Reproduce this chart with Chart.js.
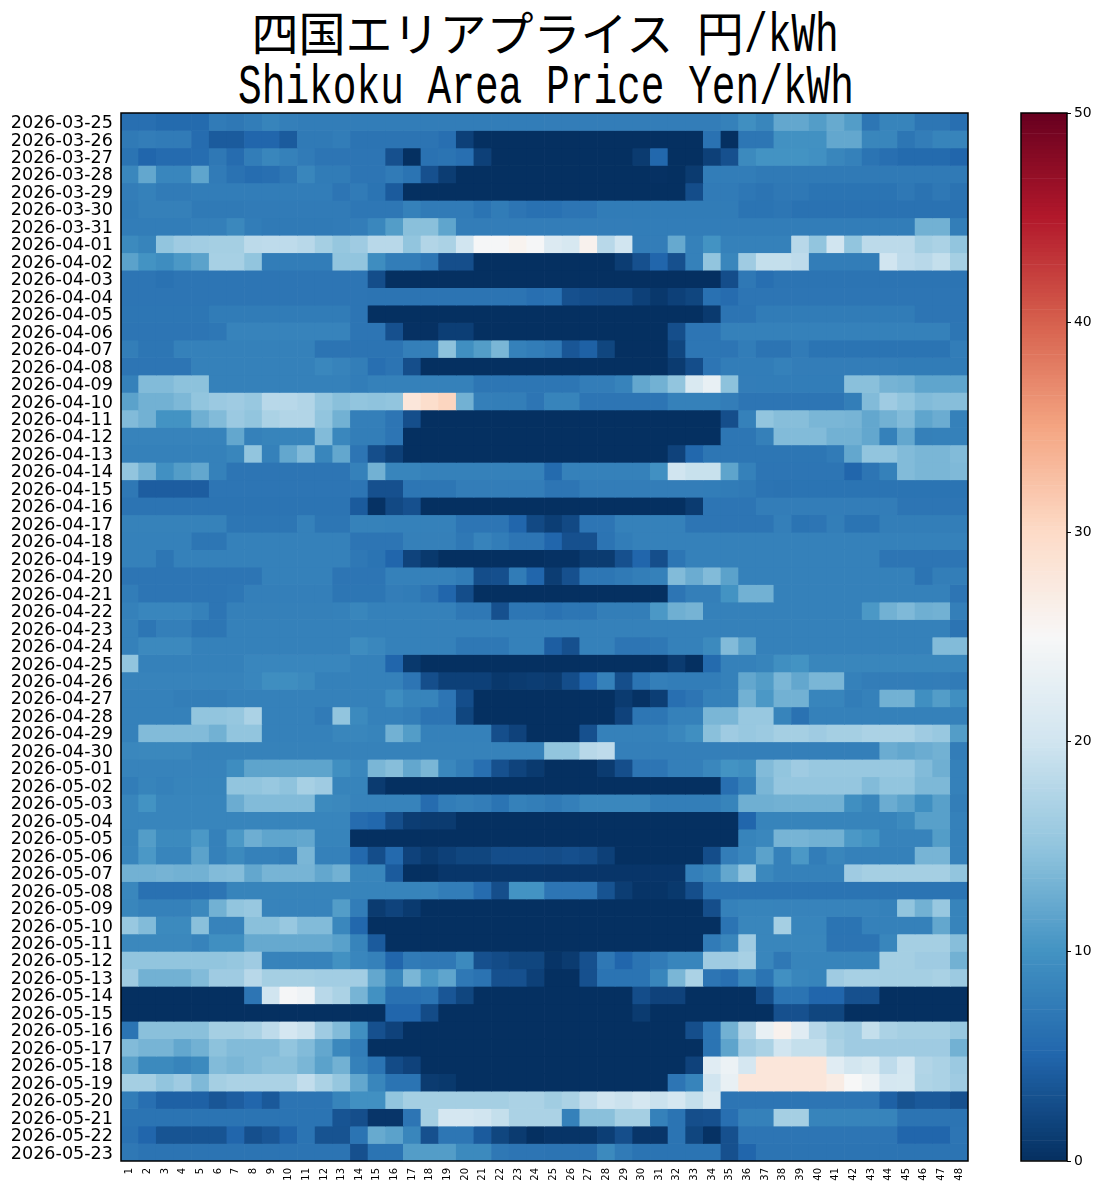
<!DOCTYPE html>
<html lang="ja">
<head>
<meta charset="utf-8">
<title>四国エリアプライス</title>
<script src="https://cdn.jsdelivr.net/npm/chart.js@4/dist/chart.umd.min.js"></script>
<style>
  html, body { margin: 0; padding: 0; background: #fff; }
  #page { position: relative; width: 1110px; height: 1190px; overflow: hidden; }
  canvas { position: absolute; top: 0; }
  #heat { left: 0; }
  #bar { left: 1000px; }
  .title-line { position: absolute; left: 0; width: 1090px; text-align: center; white-space: nowrap; color: #000;
    font-family: "Noto Sans CJK JP", sans-serif; font-size: 47px; line-height: 50px; }
  .latin { display: inline-block; font-family: "Liberation Mono", monospace; font-size: 56px;
    transform: scaleX(.705); transform-origin: left center; text-align: left; white-space: pre; }
</style>
</head>
<body>
<div id="page">
  <div class="title-line" style="top:6px">四国エリアプライス<span class="latin" style="width:23.6px"> </span>円<span class="latin" style="width:94.6px">/kWh</span></div>
  <div class="title-line" style="top:58px"><span class="latin" style="width:614px">Shikoku Area Price Yen/kWh</span></div>
  <canvas id="heat" width="1000" height="1190"></canvas>
  <canvas id="bar" width="110" height="1190"></canvas>
</div>
<script>
const dates = [
  '2026-03-25','2026-03-26','2026-03-27','2026-03-28','2026-03-29','2026-03-30','2026-03-31',
  '2026-04-01','2026-04-02','2026-04-03','2026-04-04','2026-04-05','2026-04-06','2026-04-07','2026-04-08','2026-04-09','2026-04-10',
  '2026-04-11','2026-04-12','2026-04-13','2026-04-14','2026-04-15','2026-04-16','2026-04-17','2026-04-18','2026-04-19','2026-04-20',
  '2026-04-21','2026-04-22','2026-04-23','2026-04-24','2026-04-25','2026-04-26','2026-04-27','2026-04-28','2026-04-29','2026-04-30',
  '2026-05-01','2026-05-02','2026-05-03','2026-05-04','2026-05-05','2026-05-06','2026-05-07','2026-05-08','2026-05-09','2026-05-10',
  '2026-05-11','2026-05-12','2026-05-13','2026-05-14','2026-05-15','2026-05-16','2026-05-17','2026-05-18','2026-05-19','2026-05-20',
  '2026-05-21','2026-05-22','2026-05-23',
];
const slots = ['1','2','3','4','5','6','7','8','9','10','11','12','13','14','15','16','17','18','19','20','21','22','23','24',
  '25','26','27','28','29','30','31','32','33','34','35','36','37','38','39','40','41','42','43','44','45','46','47','48'];
const colorbarTicks = [0, 10, 20, 30, 40, 50];
// RdBu_r anchors, 0 -> 50 yen
const rdbu = ['#053061','#2166ac','#4393c3','#92c5de','#d1e5f0','#f7f7f7','#fddbc7','#f4a582','#d6604d','#b2182b','#67001f'];

// one row per day, 48 half hour slots
const prices = [
  [6,6,5.5,5.5,5.5,7.3,7,7.5,8.3,7.8,7.5,7.5,7.5,7.5,7.5,7.5,7.5,7.5,7.5,7.5,7.5,7.5,7.5,7.5, 7.6,7.6,7.6,7.6,7.6,7.6,7.6,7.6,7.6,7.6,8,9.5,8.5,12,12,11,12.3,11,6.8,8.3,8.3,6.8,6.8,6],
  [7.2,7.6,7.3,7.3,5.7,4,4,5,5,4,7.2,7.2,7.5,6.6,6.6,6.6,6.6,6.6,6,1.5,0,0,0,0, 0,0,0,0,0,0,0,0,0,6.3,0,6.8,6.8,9.8,9.8,9.8,12,12,8.5,8.5,6.8,7.6,8.3,8.3],
  [6.5,5,5.6,5.6,5.8,7,5.7,7.5,8.5,8,7.3,6.7,6.7,6.7,6.7,3,0,6.3,6.5,6,1.5,0,0,0, 0,0,0,0,0,1,5.2,0,0,1.5,3,9,10,10,10,9.7,8.5,8,6.5,6,5.5,5.5,5.5,5],
  [8.7,12,8.6,8.6,11.8,7.3,6.3,5.8,6,6.8,8.5,7.4,7.4,6.7,6.7,7.3,6.5,3,1.2,0,0,0,0,0, 0,0,0,0,0,0,.1,0,1,7.5,7.5,7.5,7.2,7.2,7.2,7.2,7.2,7.2,7.2,7.2,7.2,7.2,7.2,7.2],
  [7.6,8,7.3,7.3,7.5,7.5,7.5,7.5,7.5,7.5,7.5,7.5,6.7,7.3,6.5,4,0,0,0,0,0,0,0,0, 0,0,0,0,0,0,0,0,2.7,7.3,7.3,6.9,6.6,7,7,6.5,6.5,6.5,6.5,6.5,7,6.4,7,6.4],
  [7.4,7.9,7.9,7.9,7.2,7.2,7.2,7.3,7.3,7.3,7.3,7.3,7.3,6.9,6.9,6.9,8,7.3,7.3,7.3,6.5,7.4,6.7,6.2, 6.2,6.7,6.7,7.4,7.4,7.4,7.4,7.4,7.4,7.4,7.4,6.5,6.5,6.8,6.3,6.3,6.3,6.3,6.3,6.3,6.3,6.3,6.3,6.3],
  [7.5,7.5,7.5,7.5,7.8,7.8,8.8,7.5,7.2,7.2,7.2,7.2,7.3,7.6,8.7,11,14.5,14.5,11.8,7.6,7.6,7.6,7.6,7.6, 7.6,7.6,7.6,7.6,7.6,7.5,7.5,7.5,7.5,7.5,7.5,7.5,7.5,7.5,7.5,7.5,7.5,7.5,7.5,7.5,7.5,13,13,7.7],
  [9,8.3,15,16,16.3,16.5,16.5,18.3,18.5,18.5,18,16.5,15.3,16,18,18,15,17.5,17,20,24.7,24.7,25.8,24.8, 21.5,20.8,26,18,20,7.6,7.6,12.2,8,10,8,8,8,8,18,15,20,15,18.3,18.3,18.3,16.5,17,15],
  [11.5,10,9.3,10.5,11.5,16.7,16.7,15,7.5,7.5,7.5,7.5,15,15,9.3,7.5,7.5,6.8,2.8,2.8,0,0,0,0, 0,0,0,0,1.2,3,5,3,8,15,8.5,16,19,19,18.5,7.5,7.5,7.5,7.5,20,18.5,18,19,16.5],
  [6.7,6.7,6.3,6.7,6.7,6.7,6.7,6.7,6.7,6.7,6.7,6.7,6.7,6.7,2.7,0,0,0,0,0,0,0,0,0, 0,0,0,0,0,0,0,0,0,0,2.7,7,6,6.6,6.6,6.6,6.6,6.6,6.6,6.6,6.6,6.6,6.6,6.6],
  [6.7,6.7,6.7,6.7,6.7,6.7,6.7,6.7,6.7,6.7,6.7,6.7,6.7,6.7,6.6,6.6,6.6,6.6,6.6,6.6,6.6,6.6,6.6,6, 6.2,3,2.7,2.6,2.6,1.5,.7,1.5,2,6.2,5.7,6.7,6.7,6.7,6.7,6.7,6.7,6.7,6.7,6.7,6.7,6.7,6.7,6.7],
  [6.8,6.8,6.8,6.8,6.8,7.4,7.4,7.4,7.4,7.4,7.4,7.4,7.4,6.7,0,0,0,0,0,0,0,0,0,0, 0,0,0,0,0,0,0,0,0,.9,6.6,6.6,7.4,7.4,7.4,7.4,7.4,7.4,7.4,7.4,7.4,6.7,6.7,6.7],
  [6.7,6.7,6.7,6.7,6.7,6.9,8.2,8.2,8.2,8.2,8.2,8.2,8.2,6.7,6.7,3,.1,.1,1.3,1.3,0,0,0,0, 0,0,0,0,0,0,0,2.8,6.7,6.7,8,8,8,8,8,8,8,8,8,8,8,8,8,6.8],
  [7.7,6.8,6.8,8,8,8,8,8,8,8,8,6.6,6.6,6.6,6.6,6.6,7.8,7.8,14.7,9.5,11,13.5,8,7.5, 7,3.5,4.5,2,0,0,0,2,6.8,6.8,6.7,7.5,6.6,6.6,7.3,6.5,6.5,6.5,6.5,6.5,6.5,6.5,6.5,7.5],
  [6.7,6.7,6.7,6.7,8,8,8,8,8,8,8,8.7,8.2,7.7,6,6.6,2.8,0,0,0,0,0,0,0, 0,0,0,0,0,0,0,1,2.7,6.7,7.5,7.5,7.5,8,7.6,7.6,7.6,7.6,7.6,7.6,7.4,7.4,7.4,7.4],
  [8,14,14,14.7,14.7,8,8,8,8,8,8,8,8,7.5,8,8,8,8,8,8,6.8,6.8,6.8,6.8, 6.8,6.8,7.6,7.6,8.2,12,13,15,21,23,14.7,7.6,7.5,7.5,7.5,7.5,7.5,14.5,14.5,13.2,13,11.8,11.8,11.8],
  [11.5,13,13,13.7,15,15.7,16,15.5,18,18,17.5,15.5,14.5,15,14.8,15,28,29.5,30.5,13,7.8,7.7,7.7,6.7, 8.3,8.3,6.7,6.7,6.7,6.7,6.7,8,8,8,7.6,6.7,6.7,6.7,6.7,6.7,6.7,7.7,14,16,15,14,14.3,14.3],
  [14,13,10,10,12.8,14,15.7,15,17,17.5,17.5,15,13,7.8,7.8,6.7,2.8,0,0,0,0,0,0,0, 0,0,0,0,0,0,0,0,0,0,2.8,8,15,14.3,14.3,13.5,13.5,13.3,12,13,14,11.8,12.5,8],
  [8.2,8.2,8.2,8.2,8.2,8.2,12,8,8.3,8.3,8.3,14,8.7,7.7,7.7,6.7,0,0,0,0,0,0,0,0, 0,0,0,0,0,0,0,0,0,0,6.8,6.8,7.9,14,14,14,13,13,12,8,12,7.9,8,8],
  [8,8,8,8,8,8,8.5,15,8,12,14,8.5,12,6.7,2.8,1.5,0,0,0,0,0,0,0,0, 0,0,0,0,0,0,0,1.7,5.2,6.8,6.8,6.8,6.8,6.8,6.8,6.8,7.3,12,15,15,14,13.5,13.5,14],
  [15,13,9.7,11,12,8,6.7,6.7,6.7,6.7,6.7,6.7,6.7,8,13,8.4,8.4,8,8,8,8,8,8,8, 5.5,8,8,8,8,8,9.7,20,19.3,19.3,11.7,8,6.7,6.7,6.7,6.7,6.7,5,6.7,8,14,13.5,13.5,13.8],
  [7,4.2,4.2,4.2,4.2,6.7,6.7,6.7,6.7,6.7,6.7,6.7,6.7,6.7,3,3,6.8,6.8,6.8,7.6,7.6,7.6,7.6,7.6, 6.7,6.7,7.6,7.6,7.6,7.6,7.6,7.6,7.6,7.5,7.4,7.2,6.6,6.4,6.5,6.5,6.5,6.5,6.5,6.5,6.5,6.5,6.5,6.5],
  [6.6,6.6,6.6,6.6,6.6,6.6,6.6,6.6,6.6,6.6,6.6,6.6,6.6,4,.2,2.3,3,0,0,0,0,0,0,0, 0,0,0,0,0,0,0,0,1,6.7,6.7,6.7,7.6,7.6,7.6,7.6,7.6,7.6,7.6,7.6,6.7,6.7,6.7,6.7],
  [8.1,8.1,8.1,8.1,8.1,8.1,6.8,6.8,6.8,6.8,8,6.8,6.8,8.1,8.1,8,8,8,8,6.7,6.7,6.7,5,2.3, 1.3,2.3,6.7,6.7,8,8,8,8,6.7,6.7,6.7,6.7,6.7,7.8,6.5,6.7,7.7,6.5,6.5,7.7,7.7,7.7,7.7,7.7],
  [8,8,8,8,6.8,6.8,8,8,8,8,8,8,8,6.7,6.7,6.7,7.9,7.9,7.9,7,8.2,7.5,6.7,6.7, 5,3,3,6.6,7.5,8,8,8,8,8,8,8,8,8,8,8,8,8,8,8,8,8,8,8],
  [8,8,6.8,8,8,8,8,8,8,8,8,8,8,7,6.5,5,1.8,.8,0,0,0,0,0,0, .2,.2,1,1,3,5,2.8,6.8,8,8,8,8,8,8,8,8,8,8,8,6.7,6.7,6.7,6.7,6.7],
  [6.7,6.7,6.7,6.7,6.7,6.7,6.7,6.7,8,8,8,8,6.7,6.7,6.7,8,8,8,8,7.4,2.7,2.9,7.4,5, 1.2,3,6.8,6.8,7.2,7.7,8,14,12.5,14,11.5,8,8,8,8,8,8,8,8,8,8,6.6,7.7,7.7],
  [7.5,6.7,6.7,6.7,6.7,6.7,6.9,7.8,7.8,7.8,7.8,7.8,6.8,6.8,6.8,7.6,7.4,6.7,5,2.7,0,0,0,0, 0,0,0,0,0,0,0,6.7,7.8,7.8,10,13,13,8,8,8,8,8,8,8,8,8,8,6.7],
  [8,8.6,8.6,8.6,8,6.7,7.9,7.9,7.9,7.9,7.9,7.9,8,8.5,8,8,8,8,8,7,7,3,6.8,6.8, 6.3,6.8,6.8,7.7,7.7,7.7,10.5,12.8,13.2,8,8,8,8,8,8,8,8,8,10.5,13,13.8,12.8,13,7.8],
  [8,6.8,7.8,7.8,6.8,6.8,8,8,8,8,8,8,8,8,8,8,8,8,8,8,8,8,8,8, 8,8,8,8,8,8,8,8,8,8,8,8,8,8,8,8,8,8,8,8,8,8,8,6.6],
  [8,8.9,8.9,8.9,8,8,8,8,8,8,8,8,8,9.2,8.7,8,8,8,8,7,7,7,8,8, 4.3,3,8,8,6.7,6.7,7,8,8,9,14,11.5,8,8,8,8,8,8,8,8,8,8,14,14],
  [15,8,8,8,8,8,8,8.6,8.6,8.6,8.6,8.6,8.6,8,8,5,.8,0,0,0,0,0,0,0, 0,0,0,0,0,0,0,1,0,5.5,8,8,8.3,9.5,10,8.5,8.5,8.5,8.5,8.5,8.5,8.5,8.5,8.5],
  [8.2,8.2,8.2,8.2,8.2,8.2,8.2,8.6,9.4,9.4,9,8,8,8,8,8,6.7,2.8,1.5,1.5,1.5,.7,1,1.2, 1,2.7,5,8,2.8,6.5,7.8,7.5,7.5,7.5,8,12,11,13.5,12,13.5,13.5,8,7.6,7.6,7.6,7.5,7.6,7.3],
  [8,8,8,7.7,7.7,7.7,8,8,8,8,8,8,8,8,8,9.3,8.3,8.3,6.7,2.7,0,0,0,0, 0,0,0,0,1,.2,1.3,6,6.7,8,8,13,10.5,13,13,8.4,8.4,7.5,8,13,13,9.5,11,9.5],
  [8,8,8,8,15,15,15.3,17,8,8,8,7.3,15,9,8,8,7.7,6.6,6.6,2,0,0,0,0, 0,0,0,0,1.7,6.8,6.8,8,8,13.5,13.5,15.5,15.5,8.3,6.3,8,8,8,8,8,8,8,8,8],
  [8,14,14,14,14,13,15,15,8,8,8,8,8.5,8.5,8.3,13,11,8,8,8,8,2.8,1.7,0, 0,0,3,8,8,8,8,8.7,9.5,14.5,16,15.5,15.8,16.5,16.5,16,16.5,16.5,17,17,17,16,15.5,11],
  [8.7,8.8,8.8,8.8,8.1,8.1,8.1,8.1,8.1,8.1,8.1,8.1,8.1,8.1,8.1,8.1,8.1,8.1,8.1,8.1,8.1,8.1,8.1,8.1, 15,15,18,18.5,7.8,7.8,7.8,7.8,7.8,7.8,7.8,7.8,7.8,7.8,7.8,7.8,7.8,7.8,7.8,12.5,12,12.5,13,7.6],
  [8.2,8.2,8.2,8.2,8.2,8.2,9.3,11.7,11.7,11.7,11.7,11.7,9.5,8.7,13.5,14.3,12,13.5,8.7,7.7,6,3,1.8,.9, 0,0,0,1,2.8,6.7,6.7,7.8,7.8,8.7,10,9.5,14,15,16,15.5,15.5,15.5,15.5,15.5,15.5,14,12.8,8],
  [7.5,8.3,8,8.3,8.3,8.3,15,15,15.5,14.8,16.7,16,8.3,8.3,1,0,0,0,0,0,0,0,0,0, 0,0,0,0,0,0,0,0,0,0,6,8,13.5,15.2,15.2,15.2,15.2,15.2,14,15,15,13.7,13.7,8],
  [8.4,10,8.4,8.4,8.4,8.4,12.5,14,14,14,14,9,8.8,8.2,8.2,8.2,8.2,5.7,7.5,7.9,7.6,6.5,8,7.7, 7.2,7.8,8.7,8.7,8.7,8.7,7.7,7.7,7.7,7.7,8.3,12.8,12.8,13,13,13,13,9.5,8.5,12.5,11.5,9.6,11.3,7.7],
  [8.4,8.4,8.4,8.4,8.4,8.4,8.4,8.4,8.4,8.4,8.4,8.4,8.4,5.7,5.2,2.8,1.2,1,1,0,0,0,0,0, 0,0,0,0,0,0,0,0,0,0,0,5,8.3,8.3,8.3,8.3,8.3,8.3,8.3,8.3,9,11.3,11.3,8],
  [8.3,11,9,9,10.5,8,10.5,12.7,11.8,11.8,12,8.3,8.3,0,0,0,0,0,0,0,0,0,0,0, 0,0,0,0,0,0,0,0,0,0,0,8.3,8.7,13.3,13.3,13,13,10.5,10,8.2,8.2,8.2,11,8],
  [8.4,10.5,8.4,8.4,11.5,8,9,8,8,7.7,13.5,8,8,5.3,2.7,5.4,1.7,.9,1.5,2,2,2.7,2.7,2.7, 2.6,2.9,2.6,1.5,0,0,0,0,0,2.7,7.6,8.6,11.5,8,10.5,7.5,8.5,8,8,8,8,13.3,13.3,8],
  [13,13,13.2,13,13,14,14.2,12,13.3,13.3,13.3,12,13,8.5,8.5,4,0,0,.6,.6,.6,.6,.6,.6, .5,.5,.5,.5,.5,.5,.5,.5,7.8,8.5,12,15,8.8,8,8,8,8,16,16.5,16.5,16.5,16.5,16.5,15],
  [8.7,6.2,6.2,6.2,6.2,6.7,8.3,8.3,8.3,8.3,8.3,8.3,8.3,8.3,8.3,8.3,8.3,8.3,7.5,7.5,5.7,2.8,10,10, 6.7,6.7,6.7,3.2,1.2,.4,.4,.8,2.8,6.5,6.5,6.5,6.5,6.5,6.5,6.5,6.5,6.5,6.5,6.5,6.5,6.5,6.5,6.5],
  [8.5,8,8,8,8.8,13,15,15.5,8.2,8.2,8.2,8.2,11,7.5,1,1.8,.9,0,0,0,0,0,0,0, 0,0,0,0,0,0,0,0,0,2.8,8,8.3,8.3,8.2,8.2,8.2,8.2,8.2,8.2,8,15,13,15.5,8.3],
  [15.5,14,9,9,14.5,8.2,8.2,14.5,14.5,15.5,14,14,8.7,5.2,0,0,0,0,0,0,0,0,0,0, 0,0,0,0,0,0,0,0,0,0,6.5,8.5,8.5,16.5,8.4,8.4,6.5,6.5,8,8,8,8,12,8.3],
  [8.8,8.8,8.8,8.8,8.2,9.6,9.6,12.2,12.2,12.2,12.2,12.2,11.4,8.3,4,0,0,0,0,0,0,0,0,0, 0,0,0,0,0,0,0,0,0,7.3,8.5,16,8.5,8.5,8.5,8.5,6.6,6.6,6.6,8.5,16.5,16.5,16.5,14.3],
  [15,15,15,15,15,15,15.3,16,8.2,8.2,8.2,8.2,9.8,8.6,8,5,7.3,7,7,9,3,2.5,2,2, .4,1,3,7,5,6.5,7.3,8.4,8.4,16,16,16.7,8.5,7,8.3,8.3,8.3,8.3,8.3,16.5,16.5,16,16,13],
  [16,13,13,13,14,16,16,18,16.5,16.5,16.5,16.3,16.3,16.3,12,8.5,13.5,10.5,11.8,7,6.4,3,3,1.5, 0,0,3,6.5,6.5,6.5,8.5,13.5,17,6.7,6,8.5,6.5,9.7,8.5,8.3,16,16.7,16.7,16.5,16.5,16.5,16.8,15.8],
  [0,0,0,0,0,0,0,6.7,20,24.7,24,18,17,13.3,9.8,6.2,6.2,6.5,3.5,2,0,0,0,0, 0,0,0,0,0,2.7,1.7,1.7,0,0,0,0,2.7,6.5,6.5,5,5,3,3,0,0,0,0,0],
  [0,0,0,0,0,0,0,0,0,0,0,0,0,0,0,5,5,2.5,0,0,0,0,0,0, 0,0,0,0,0,1,0,0,0,0,0,0,0,3,3,2,2,0,0,0,0,0,0,0],
  [6.5,14.5,14.5,14.5,14.5,16.5,16.5,17,18.5,20.5,19.5,16,14,9.5,3,1.7,0,0,0,0,0,0,0,0, 0,0,0,0,0,0,0,0,2.8,6.5,13,17.5,23,26,22,18,16.5,16,19,17,16.5,16.5,16.5,15.5],
  [14,13.3,13.3,12,13,14.7,14,14,14,15,14,12,8.8,7.5,0,0,0,0,0,0,0,0,0,0, 0,0,0,0,0,0,0,0,0,6.5,11.7,16,17,20,19,19,17,16,16,16,16,16,16,13],
  [11.5,9,9,8.3,9,14,13.5,14,14.5,14.5,13.5,11.5,13,8,6.5,2.5,1.7,0,0,0,0,0,0,0, 0,0,0,0,0,0,0,0,1.7,22,23.5,20.5,28,28,28,28,22,20.3,21,18.5,20.5,17.5,17,15.7],
  [16.5,16.5,15,16,13.8,16.5,17,17,17,17,18.8,17,15.3,12,8.5,6.5,6.5,1,.8,0,0,0,0,0, 0,0,0,0,0,0,0,6.7,8.3,20,23,28,28,28,28,28,27,25,23.5,20.5,20.7,17.3,17,16],
  [7.5,6,4.5,4.5,4.5,3.5,4.2,5,3.8,6.6,6.6,6.6,8.3,9.7,9.7,15,16.5,16.5,16.5,16.5,16.5,16.5,17,17, 16.2,17,18.8,20,19.5,20.5,19.5,20.5,19,21,6.7,6.7,6.7,6.7,6.7,6.7,6.7,6.7,6.7,4.5,3.2,3.8,3.8,3],
  [6.5,6.5,6.5,6.5,6.5,6.5,6.5,6.5,6.5,6.5,6.5,6.5,3.3,2.8,.5,.5,6.7,16.5,20.5,20.5,20,19,17,17, 17,8,14.5,14.5,16.5,16.5,8,6.5,2.8,3,6,8,8,16.5,16.5,8.3,8.3,8.3,8.3,8.3,6.6,6.6,6.6,6.6],
  [6.3,5,3.3,3.3,3.3,3.3,5,2.9,3.5,4.8,6.5,3.2,3.2,6.5,12.3,11.5,8.5,3,6.8,6.8,4,2,1,0, .4,.4,.4,1.3,2.8,.5,.5,6.5,2,.2,3,6.7,6.7,6.7,6.7,6.7,6.7,6.7,6.7,6.7,5,5,5,6.7],
  [7,6.6,6.6,6.6,6.6,6.6,6.6,6.6,6.6,6.6,6.6,6.6,6.6,3,6.5,6.5,11,11,11,9,9,7,6.7,6.7, 6.6,6.6,6.6,9,7.3,6.5,6.5,6.5,6.5,6.5,3,5,6.6,6.6,6.6,6.6,6.6,6.6,6.6,6.6,6.6,6.6,6.6,6.6],
];

const hexToRgb = h => [1, 3, 5].map(i => parseInt(h.slice(i, i + 2), 16));
function priceColor(v) {
  const t = Math.max(0, Math.min(1, v / 50)) * (rdbu.length - 1);
  const i = Math.min(Math.floor(t), rdbu.length - 2);
  const a = hexToRgb(rdbu[i]), b = hexToRgb(rdbu[i + 1]);
  const c = a.map((x, k) => Math.round(x + (b[k] - x) * (t - i)));
  return `rgb(${c[0]},${c[1]},${c[2]})`;
}

// black box round the plot area, the axis border only gives one side
const frame = {
  id: 'frame',
  afterDraw(chart) {
    const { ctx, chartArea: a } = chart;
    ctx.save();
    ctx.strokeStyle = '#000';
    ctx.lineWidth = 1.5;
    ctx.strokeRect(a.left, a.top, a.right - a.left, a.bottom - a.top);
    ctx.restore();
  },
};

// label text sits a bit high in a row, nudge it down (no tick marks on this axis)
const labelNudge = 0.1;

new Chart(document.getElementById('heat'), {
  type: 'bar',
  data: {
    labels: slots,
    datasets: prices.map((row, r) => ({
      label: dates[r],
      data: row.map(() => [r - 0.5, r + 0.5]),
      backgroundColor: row.map(priceColor),
      borderWidth: 0,
      barPercentage: 1,
      categoryPercentage: 1,
    })),
  },
  plugins: [frame],
  options: {
    responsive: false,
    animation: false,
    devicePixelRatio: 1,
    grouped: false,
    layout: { padding: { top: 113, right: 32, left: 0, bottom: 0 } },
    plugins: { legend: { display: false }, title: { display: false }, tooltip: { enabled: false } },
    scales: {
      x: {
        grid: { display: false, tickLength: 7 },
        border: { display: false },
        afterFit(s) { s.height = 29; },
        ticks: { color: '#000', font: { family: '"DejaVu Sans"', size: 10 }, minRotation: 90, maxRotation: 90, autoSkip: false, padding: 0 },
      },
      y: {
        type: 'linear',
        reverse: true,
        min: -0.5,
        max: 59.5,
        grid: { display: false, tickLength: 8 },
        border: { display: false },
        afterFit(s) { s.width = 121; },
        afterBuildTicks(s) { s.ticks = dates.map((d, i) => ({ value: i + labelNudge })); },
        ticks: { color: '#000', font: { family: '"DejaVu Sans"', size: 17.6 }, autoSkip: false, padding: 0, callback: v => dates[Math.round(v)] },
      },
    },
  },
});

// colour bar, same colours on a 0-50 axis
const barLevels = Array.from({ length: 256 }, (_, i) => i * 50 / 256);

new Chart(document.getElementById('bar'), {
  type: 'bar',
  data: {
    labels: [''],
    datasets: barLevels.map(v => ({
      data: [[v, v + 50 / 256]],
      backgroundColor: priceColor(v + 25 / 256),
      borderWidth: 0,
      barPercentage: 1,
      categoryPercentage: 1,
    })),
  },
  plugins: [frame],
  options: {
    responsive: false,
    animation: false,
    devicePixelRatio: 1,
    grouped: false,
    layout: { padding: { top: 113, left: 21, right: 0, bottom: 0 } },
    plugins: { legend: { display: false }, title: { display: false }, tooltip: { enabled: false } },
    scales: {
      x: {
        grid: { display: false },
        border: { display: false },
        ticks: { display: false },
        afterFit(s) { s.height = 29; },
      },
      y: {
        position: 'right',
        min: 0,
        max: 50,
        grid: { drawOnChartArea: false, drawTicks: true, tickLength: 4, tickColor: '#000', tickWidth: 1 },
        border: { display: false },
        afterFit(s) { s.width = 43; },
        afterBuildTicks(s) { s.ticks = colorbarTicks.map(v => ({ value: v })); },
        ticks: { color: '#000', font: { family: '"DejaVu Sans"', size: 13.9 }, padding: 3 },
      },
    },
  },
});
</script>
</body>
</html>
